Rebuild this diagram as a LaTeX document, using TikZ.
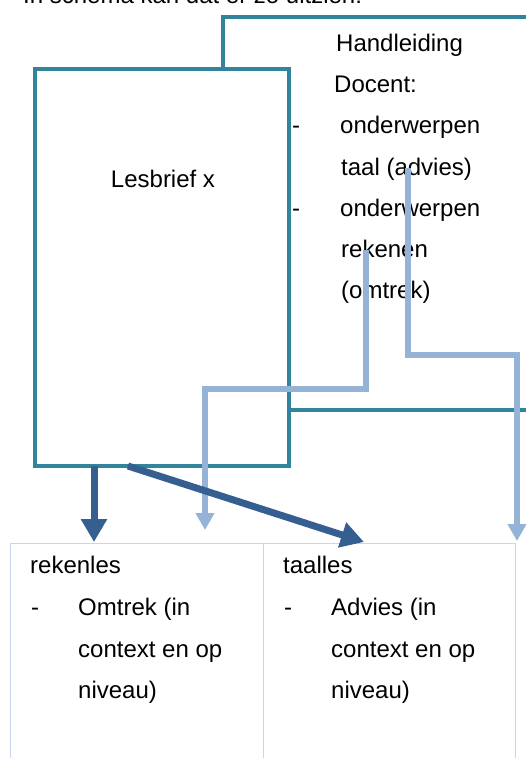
\documentclass[tikz,border=0pt]{standalone}
\usepackage{fontspec}
\setmainfont{Liberation Sans}
\usetikzlibrary{arrows.meta}
\definecolor{boxteal}{HTML}{31849B}
\definecolor{linkblue}{HTML}{95B3D7}
\definecolor{arrowblue}{HTML}{365F91}
\definecolor{cellblue}{HTML}{C6D6EC}

\begin{document}
\begin{tikzpicture}[x=1pt,y=-1pt,
  txt/.style={anchor=base west,inner sep=0pt,font=\fontsize{24}{29}\selectfont},
  kader/.style={draw=boxteal,line width=3.2pt,inner sep=0pt,outer sep=0pt,anchor=north west},
  cel/.style={draw=cellblue,line width=1pt,inner sep=0pt,outer sep=0pt,anchor=north west,minimum height=260pt},
  link/.style={draw=linkblue,line width=5.2pt,-{Triangle[width=18pt,length=17pt]}},
  pijl/.style={draw=arrowblue,line width=7pt,-{Triangle[width=25pt,length=23pt]}}]
\path[use as bounding box] (0,0) rectangle (526,758);
\clip (0,0) rectangle (526,758);

\node[txt] (intro) at (23,3) {In schema kan dat er zo uitzien:};

\node[kader,minimum width=337pt,minimum height=393pt] (hand) at (223,17) {};
\node[kader,fill=white,minimum width=254pt,minimum height=397pt] (les) at (35,69) {};
\node[txt,anchor=base] (lestxt) at (163,187) {Lesbrief x};

\node[txt] (h1) at (336,51) {Handleiding};
\node[txt] (h2) at (334,92) {Docent:};
\node[txt] (d1) at (292,133) {-};
\node[txt] (h3) at (340,133) {onderwerpen};
\node[txt] (h4) at (341,175) {taal (advies)};
\node[txt] (d2) at (292,216) {-};
\node[txt] (h5) at (340,216) {onderwerpen};
\node[txt] (h6) at (341,257) {rekenen};
\node[txt] (h7) at (341,298) {(omtrek)};

\node[cel,minimum width=253pt] (reken) at (10,543) {};
\node[cel,minimum width=252pt] (taal) at (263,543) {};

\node[txt] (r1) at (30,573) {rekenles};
\node[txt] (r2) at (31,615) {-};
\node[txt] (r3) at (78,615) {Omtrek (in};
\node[txt] (r4) at (78,657) {context en op};
\node[txt] (r5) at (78,698) {niveau)};
\node[txt] (t1) at (283,573) {taalles};
\node[txt] (t2) at (284,615) {-};
\node[txt] (t3) at (331,615) {Advies (in};
\node[txt] (t4) at (331,657) {context en op};
\node[txt] (t5) at (331,698) {niveau)};

\coordinate (advS) at (408,168);
\coordinate (advM) at (517,355);
\coordinate (advE) at (517,541);
\coordinate (omtS) at (366,250);
\coordinate (omtM) at (205,389);
\coordinate (omtE) at (205,530);
\draw[link] (advS) |- (advM) -- (advE);
\draw[link] (omtS) |- (omtM) -- (omtE);

\coordinate (lesA) at (94,466);
\coordinate (lesB) at (128,466);
\coordinate (rekenIn) at (94,542);
\coordinate (taalIn) at (364,542);
\draw[pijl] (lesA) -- (rekenIn);
\draw[pijl] (lesB) -- (taalIn);
\end{tikzpicture}
\end{document}
